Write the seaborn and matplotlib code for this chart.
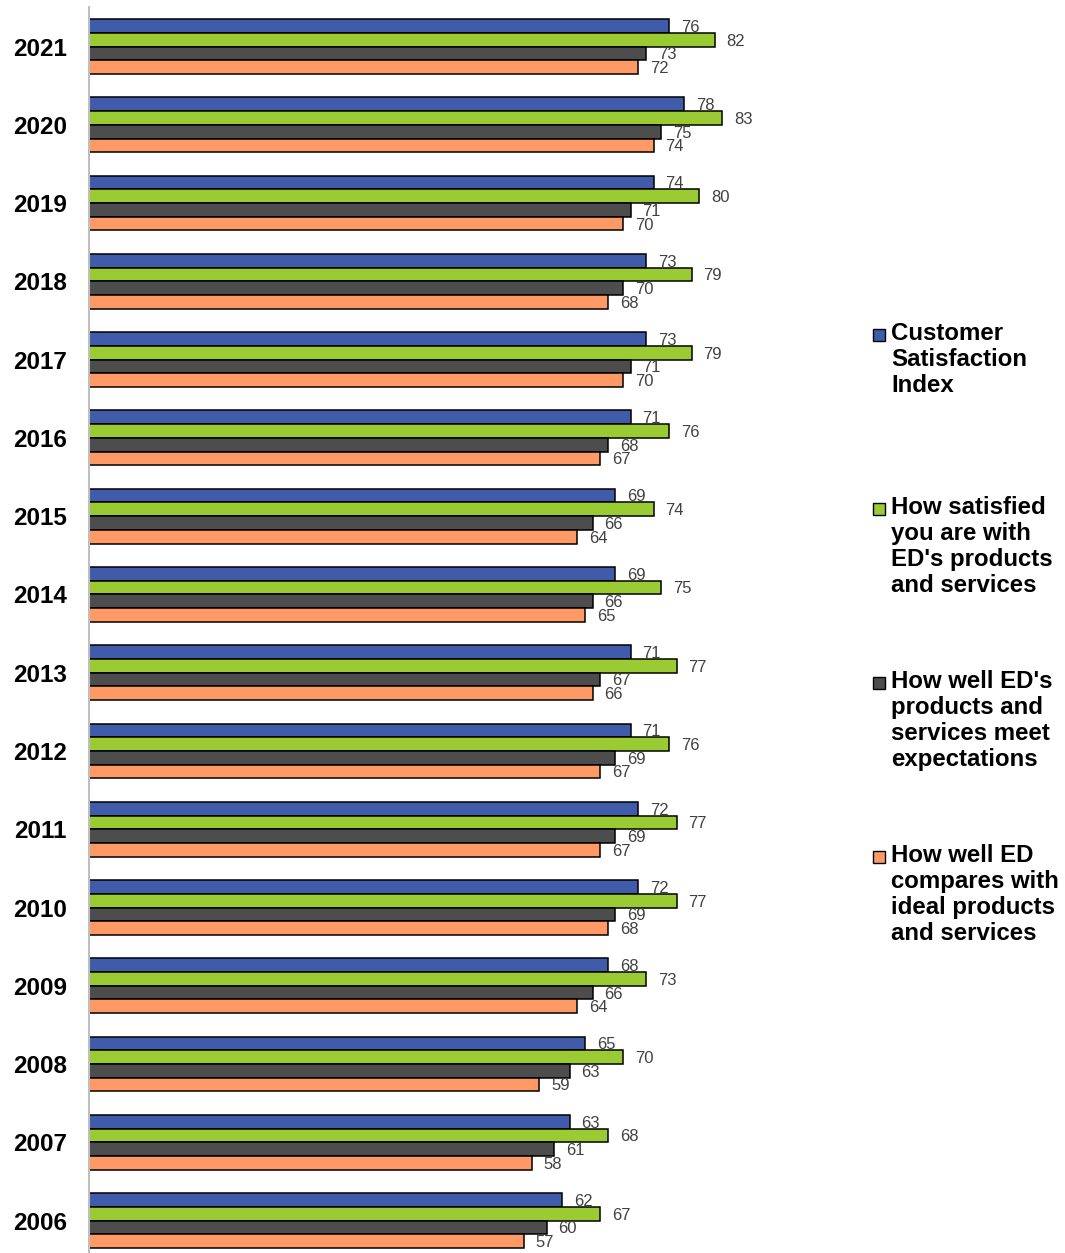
import matplotlib
matplotlib.use("Agg")
import matplotlib.pyplot as plt
import seaborn as sns
import pandas as pd
from matplotlib.patches import Rectangle

years = ["2021", "2020", "2019", "2018", "2017", "2016", "2015", "2014",
         "2013", "2012", "2011", "2010", "2009", "2008", "2007", "2006"]
series = ["Customer Satisfaction Index",
          "How satisfied you are with ED's products and services",
          "How well ED's products and services meet expectations",
          "How well ED compares with ideal products and services"]
legend_labels = ["Customer\nSatisfaction\nIndex",
                 "How satisfied\nyou are with\nED's products\nand services",
                 "How well ED's\nproducts and\nservices meet\nexpectations",
                 "How well ED\ncompares with\nideal products\nand services"]
csi = [76, 78, 74, 73, 73, 71, 69, 69, 71, 71, 72, 72, 68, 65, 63, 62]
satisfied = [82, 83, 80, 79, 79, 76, 74, 75, 77, 76, 77, 77, 73, 70, 68, 67]
expectations = [73, 75, 71, 70, 71, 68, 66, 66, 67, 69, 69, 69, 66, 63, 61, 60]
ideal = [72, 74, 70, 68, 70, 67, 64, 65, 66, 67, 67, 68, 64, 59, 58, 57]
colors = ["#3F5BA9", "#9BCB33", "#4D4D4D", "#FF9966"]

rows = []
for s, vals in zip(series, [csi, satisfied, expectations, ideal]):
    for y, v in zip(years, vals):
        rows.append({"year": y, "series": s, "value": v})
df = pd.DataFrame(rows)

sns.set_theme(style="white")
plt.rcParams["font.family"] = ["Liberation Sans", "DejaVu Sans"]

W, H = 1065, 1253
fig = plt.figure(figsize=(W / 100, H / 100), dpi=100)
step = 78.27
top_px = 7.4
ax = fig.add_axes([89 / W, 1 - (top_px + 16 * step) / H, (852 - 89) / W, 16 * step / H])

sns.barplot(data=df, x="value", y="year", hue="series", order=years,
            hue_order=series, palette=colors, orient="h", width=0.7,
            edgecolor="black", linewidth=1.1, saturation=1, legend=False, ax=ax)

ax.set_xlim(0, 100)
ax.set_ylim(15.5, -0.5)
ax.set_xlabel("")
ax.set_ylabel("")
ax.set_xticks([])
for side in ["top", "right", "bottom"]:
    ax.spines[side].set_visible(False)
ax.spines["left"].set_color("#BFBFBF")
ax.spines["left"].set_linewidth(1.5)
ax.tick_params(axis="y", length=0, pad=16)
for lab in ax.get_yticklabels():
    lab.set_fontsize(17.5)
    lab.set_fontweight("bold")
    lab.set_color("black")

for cont in ax.containers:
    anns = ax.bar_label(cont, padding=8.5, fontsize=12, color="#404040")
    for a in anns:
        a.xyann = (8.5, -1.0)

# legend
ys = [335, 509, 683, 857]
for c, lab, y in zip(colors, legend_labels, ys):
    fig.patches.append(Rectangle((873 / W, 1 - (y + 6) / H), 12 / W, 12 / H,
                                 transform=fig.transFigure, facecolor=c,
                                 edgecolor="black", linewidth=1.0))
    fig.text(891 / W, 1 - (y - 13) / H, lab, fontsize=17.3, fontweight="bold",
             va="top", ha="left", color="black", linespacing=1.17)

fig.savefig("out.png", dpi=100)
